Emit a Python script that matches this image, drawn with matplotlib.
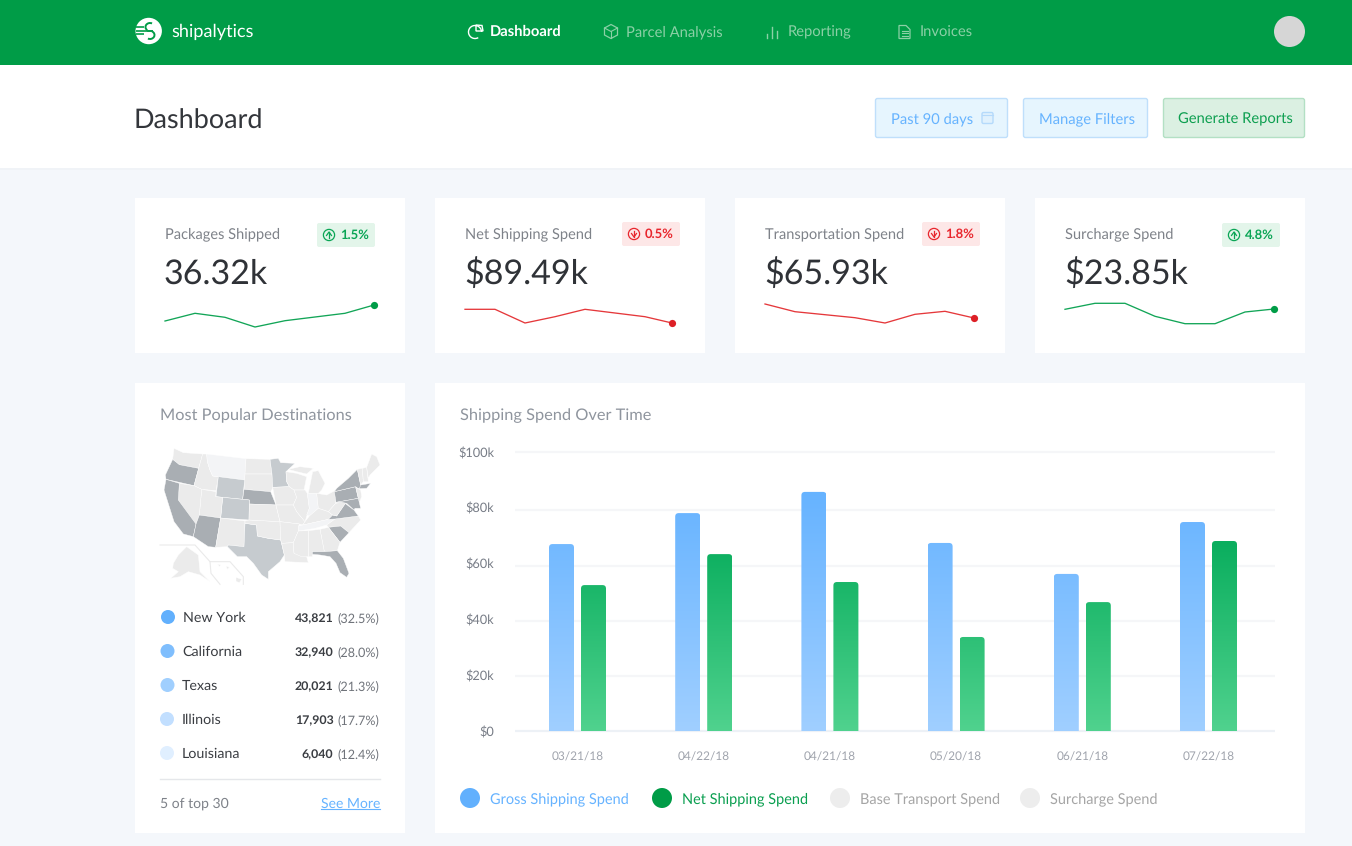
import numpy as np
import matplotlib
matplotlib.use("Agg")
import matplotlib.pyplot as plt
from matplotlib.colors import LinearSegmentedColormap
from matplotlib.patches import Rectangle, FancyBboxPatch, Circle, Arc, Polygon

plt.rcParams["font.family"] = ["Lato", "DejaVu Sans"]
plt.rcParams["text.hinting"] = "no_hinting"
plt.rcParams["text.hinting_factor"] = 8

# ---- data ----
DATES = ["03/21/18", "04/22/18", "04/21/18", "05/20/18", "06/21/18", "07/22/18"]
GROSS = [67.0, 78.1, 85.7, 67.4, 56.3, 74.9]
NET = [52.3, 63.4, 53.4, 33.7, 46.2, 68.1]
Y_TICKS = [0, 20, 40, 60, 80, 100]
Y_LABELS = ["$0", "$20k", "$40k", "$60k", "$80k", "$100k"]
GRID_LINES = [19.7, 39.4, 59.1, 79.2, 100]

CARD_TITLES = ["Packages Shipped", "Net Shipping Spend", "Transportation Spend", "Surcharge Spend"]
CARD_VALUES = ["36.32k", "$89.49k", "$65.93k", "$23.85k"]
CARD_DELTAS = ["1.5%", "0.5%", "1.8%", "4.8%"]
CARD_UP = [True, False, False, True]
SPARK_1 = [14, 21.7, 17.7, 8, 14.3, 18, 21.7, 30]
SPARK_2 = [25.7, 25.7, 12, 18.3, 25.7, 22, 18.3, 12]
SPARK_3 = [31, 23.3, 20.3, 17.3, 12, 20.7, 23.7, 17]
SPARK_4 = [25.7, 31.7, 31.7, 18.7, 11.3, 11.3, 23, 26]

DEST_NAMES = ["New York", "California", "Texas", "Illinois", "Louisiana"]
DEST_COUNTS = ["43,821", "32,940", "20,021", "17,903", "6,040"]
DEST_SHARES = ["(32.5%)", "(28.0%)", "(21.3%)", "(17.7%)", "(12.4%)"]
DEST_COLORS = ["#62B0FD", "#7FBEFD", "#A0CFFE", "#C2DFFF", "#E0EFFF"]

LEGEND_NAMES = ["Gross Shipping Spend", "Net Shipping Spend", "Base Transport Spend", "Surcharge Spend"]

# rough state outlines
LIGHT, MID, DARK, PALE = "#EBEBEB", "#C6CBCF", "#A9AEB3", "#F3F4F6"
STATES = [
    (LIGHT, [(72,25),(100,38),(158,42),(146,85),(88,74),(68,58)]),  # WA
    (DARK, [(68,58),(88,74),(146,85),(132,137),(48,118),(46,105)]),  # OR
    (LIGHT, [(158,42),(170,42),(172,65),(180,90),(188,108),(205,110),(198,152),(155,148),(132,137),(146,85)]),  # ID
    (PALE, [(170,42),(288,56),(284,120),(205,110),(188,108),(180,90),(172,65)]),  # MT
    (LIGHT, [(288,56),(360,58),(366,102),(285,102)]),  # ND
    (LIGHT, [(285,102),(366,102),(368,145),(362,155),(282,148)]),  # SD
    (MID, [(205,110),(284,120),(278,178),(198,170)]),  # WY
    (DARK, [(282,148),(362,155),(378,195),(298,192),(298,180),(278,178)]),  # NE
    (MID, [(218,172),(298,180),(297,240),(212,234)]),  # CO
    (LIGHT, [(155,148),(198,155),(197,170),(218,172),(212,234),(148,225)]),  # UT
    (LIGHT, [(88,130),(132,137),(155,148),(148,225),(138,252),(128,252),(85,180)]),  # NV
    (DARK, [(48,118),(88,130),(85,180),(138,252),(130,290),(100,282),(72,245),(42,150)]),  # CA
    (DARK, [(148,225),(212,234),(197,322),(175,320),(130,290),(138,252)]),  # AZ
    (LIGHT, [(212,234),(285,243),(282,320),(235,315),(232,320),(197,322)]),  # NM
    (MID, [(285,250),(320,255),(322,288),(355,295),(392,300),(403,345),(390,365),(355,395),(355,418),(335,405),(310,370),(290,350),(262,350),(232,320),(235,315),(282,320)]),  # TX
    (LIGHT, [(285,243),(297,240),(390,245),(392,300),(355,295),(322,288),(320,255),(285,250)]),  # OK
    (LIGHT, [(298,192),(378,195),(390,245),(297,240)]),  # KS
    (MID, [(360,58),(385,55),(392,68),(435,70),(408,95),(410,125),(418,140),(368,142),(366,102)]),  # MN
    (LIGHT, [(368,142),(418,140),(432,150),(440,172),(430,195),(378,195)]),  # IA
    (LIGHT, [(378,195),(430,195),(440,215),(465,245),(458,255),(448,252),(390,245)]),  # MO
    (LIGHT, [(390,245),(448,252),(445,273),(430,308),(395,310),(392,300)]),  # AR
    (LIGHT, [(395,310),(430,308),(432,340),(468,343),(475,368),(405,365),(403,345)]),  # LA
    (LIGHT, [(408,95),(440,100),(470,110),(462,150),(432,150),(418,140),(410,125)]),  # WI
    (LIGHT, [(432,150),(465,150),(472,160),(478,205),(465,245),(440,215),(430,195),(440,172)]),  # IL
    (PALE, [(472,160),(500,160),(505,205),(478,228),(470,225),(478,205)]),  # IN
    (LIGHT, [(488,95),(505,92),(525,130),(515,150),(505,160),(475,160),(482,125)]),  # MI
    (LIGHT, [(415,88),(450,80),(490,85),(470,102),(440,95)]),  # MI upper
    (LIGHT, [(500,160),(530,165),(555,152),(557,190),(535,215),(505,205)]),  # OH
    (LIGHT, [(458,255),(465,245),(478,228),(505,205),(535,215),(548,225),(535,238),(445,258)]),  # KY
    (PALE, [(445,258),(535,238),(555,237),(530,255),(495,265),(445,273)]),  # TN
    (LIGHT, [(530,255),(555,237),(625,228),(632,240),(597,278),(572,258),(535,262)]),  # NC
    (DARK, [(535,238),(548,225),(560,228),(585,190),(612,210),(625,228),(555,237)]),  # VA
    (LIGHT, [(535,215),(557,190),(575,187),(590,183),(585,192),(560,228),(548,225)]),  # WV
    (DARK, [(553,155),(617,140),(625,175),(558,187)]),  # PA
    (DARK, [(560,145),(595,115),(622,88),(632,135),(650,135),(625,146),(617,140),(553,155)]),  # NY
    (LIGHT, [(617,142),(632,150),(635,170),(628,188),(625,175)]),  # NJ
    (DARK, [(558,187),(625,175),(632,205),(615,205),(612,210),(590,190),(575,187)]),  # MD
    (LIGHT, [(622,88),(637,85),(640,125),(632,135)]),  # VT
    (LIGHT, [(637,85),(650,82),(655,125),(640,125)]),  # NH
    (LIGHT, [(650,82),(665,42),(680,50),(690,75),(660,105),(655,115)]),  # ME
    (DARK, [(632,135),(662,130),(650,145),(628,146)]),  # MA
    (DARK, [(535,262),(572,258),(597,278),(570,307)]),  # SC
    (LIGHT, [(510,268),(535,262),(570,307),(562,332),(523,335)]),  # GA
    (LIGHT, [(475,272),(510,268),(523,335),(487,335),(487,350),(475,350)]),  # AL
    (LIGHT, [(445,273),(475,272),(475,350),(455,350),(432,340),(430,308)]),  # MS
    (DARK, [(487,335),(523,335),(562,332),(580,355),(597,400),(590,412),(570,398),(558,370),(540,350),(510,345),(487,343)]),  # FL
    (LIGHT, [(70,370),(85,345),(110,320),(145,345),(150,395),(180,425),(150,405),(115,395),(90,410),(62,415),(85,395),(68,385)]),  # AK
    (LIGHT, [(203,372),(212,375),(208,380)]),  # HI
    (LIGHT, [(228,378),(238,382),(232,388)]),  # HI
    (LIGHT, [(258,412),(275,418),(268,428),(258,424)]),  # HI
]
MAP_LINES = [
    [(30,315),(135,315),(180,365),(240,365),(280,410),(280,433)],
    [(180,365),(183,400),(210,433)],
]

BG = "#F4F7FB"
GREEN = "#009C47"
NAV_DIM = "#8BD0A6"
TEXT_DARK = "#2F3237"
TEXT_GREY = "#7E8289"
TITLE_GREY = "#8F959E"
BLUE = "#66B3FF"

fig = plt.figure(figsize=(13.52, 8.46), dpi=100, facecolor=BG)
ax = fig.add_axes([0, 0, 1, 1])
ax.set_xlim(0, 1352)
ax.set_ylim(846, 0)
ax.axis("off")


def px_axes(x0, y0, x1, y1):
    # axes placed by picture pixels, y measured from the top
    a = fig.add_axes([x0 / 1352, 1 - y1 / 846, (x1 - x0) / 1352, (y1 - y0) / 846])
    a.patch.set_alpha(0)
    return a


def put(x, y, s, px, color, ha="left", weight="normal"):
    ax.text(x, y, s, fontsize=px * 0.72, color=color, ha=ha, va="baseline", fontweight=weight)


def box(x0, y0, x1, y1, color, edge="none", r=0):
    if r:
        ax.add_patch(FancyBboxPatch((x0, y0), x1 - x0, y1 - y0, boxstyle=f"round,pad=0,rounding_size={r}",
                                    fc=color, ec=edge, lw=1))
    else:
        ax.add_patch(Rectangle((x0, y0), x1 - x0, y1 - y0, fc=color, ec=edge, lw=0))


# ---- header ----
box(0, 0, 1352, 65, GREEN)
box(0, 65, 1352, 168, "white")
box(0, 168, 1352, 170, "#F0F3F7")

ax.add_patch(Circle((148.7, 31), 13.2, fc="white", ec="none"))
for yy, x_end in [(27.3, 144), (30.7, 147), (34, 144)]:
    ax.plot([135.5, x_end], [yy, yy], color=GREEN, lw=1.2, solid_capstyle="butt")
ax.add_patch(Arc((150, 27), 9, 8, theta1=130, theta2=300, ec=GREEN, lw=1.4))
ax.add_patch(Arc((150, 35), 9, 8, theta1=-60, theta2=120, ec=GREEN, lw=1.4))
ax.plot([148, 152], [31, 31], color=GREEN, lw=1.4)
put(171.5, 37, "shipalytics", 18.2, "white")

put(490, 36, "Dashboard", 14.7, "white", weight="bold")
put(626, 36, "Parcel Analysis", 14.7, NAV_DIM)
put(788, 36, "Reporting", 14.7, NAV_DIM)
put(920, 37, "Invoices", 14.7, NAV_DIM)

# nav icons
ax.add_patch(Arc((475, 32), 13, 13, theta1=-300, theta2=0, ec="white", lw=1))
ax.add_patch(Polygon([(476, 25), (482, 25.5), (483, 31), (476, 31)], fc="none", ec="white", lw=1))
ax.add_patch(Polygon([(611, 24.5), (617.5, 28), (617.5, 35), (611, 38.5), (604.5, 35), (604.5, 28)], fc="none", ec=NAV_DIM, lw=0.9))
ax.plot([604.5, 611, 617.5], [28, 31.5, 28], color=NAV_DIM, lw=0.8)
ax.plot([611, 611], [31.5, 38.5], color=NAV_DIM, lw=0.8)
for xx, top in [(767, 34), (772, 27), (777, 31)]:
    ax.plot([xx, xx], [top, 38], color=NAV_DIM, lw=1)
ax.add_patch(Polygon([(899, 25.5), (906, 25.5), (910, 29.5), (910, 38.5), (899, 38.5)], fc="none", ec=NAV_DIM, lw=0.9))
for yy in [31, 33.5, 36]:
    ax.plot([901.5, 907.5], [yy, yy], color=NAV_DIM, lw=0.8)
ax.add_patch(Circle((1289.5, 31.5), 15.5, fc="#D6D6D6", ec="none"))

put(134, 128.5, "Dashboard", 27, "#33363B")

# buttons
box(875.5, 98.5, 1007.5, 137.5, "#E6F5FE", "#BFDFFB", 2)
box(1023.5, 98.5, 1147.5, 137.5, "#E6F5FE", "#BFDFFB", 2)
box(1163.5, 98.5, 1304.5, 137.5, "#DBF0E2", "#B3E0C4", 2)
put(891, 123, "Past 90 days", 14.7, BLUE)
put(1039, 123, "Manage Filters", 14.7, BLUE)
put(1178, 123, "Generate Reports", 14.7, "#0D9F50")
box(982, 112.5, 993, 123.5, "#E0F1FD", "#B5DAFB", 1.5)
ax.plot([982, 993], [115.5, 115.5], color="#B5DAFB", lw=0.8)

# ---- KPI cards ----
CARD_LEFT = [135, 435, 735, 1035]
SPARKS = [SPARK_1, SPARK_2, SPARK_3, SPARK_4]
SPARK_X = [[0, 1, 2, 3, 4, 5, 6, 6.97], [0, 1, 2, 3, 4, 5, 6, 6.9],
           [0, 1, 2, 3, 4, 5, 6, 6.97], [0, 1, 2, 3, 4, 5, 6, 6.97]]
for i, left in enumerate(CARD_LEFT):
    box(left, 198, left + 270, 353, "white")
    put(left + 30, 238, CARD_TITLES[i], 14.6, TEXT_GREY)
    put(left + 29, 283.5, CARD_VALUES[i], 34, TEXT_DARK)

    up = CARD_UP[i]
    main = "#0AA555" if up else "#E8262D"
    bx0 = left + (182 if i == 0 else 187)
    by0 = 223 if up else 222
    box(bx0, by0, bx0 + 58, by0 + 24, "#E3F5EA" if up else "#FDE7E7", r=2)
    ax.add_patch(Circle((bx0 + 12, by0 + 12), 5.6, fc="none", ec=main, lw=0.9))
    sgn = -1 if up else 1
    ax.plot([bx0 + 12, bx0 + 12], [by0 + 12 - 3, by0 + 12 + 3], color=main, lw=0.9)
    ax.plot([bx0 + 9.5, bx0 + 12, bx0 + 14.5], [by0 + 12 - sgn * 0.5, by0 + 12 + sgn * 3, by0 + 12 - sgn * 0.5], color=main, lw=0.9)
    put(bx0 + 23, by0 + 16, CARD_DELTAS[i], 13, main, weight="bold")

    # sparkline, axes covers y 295..335 and x from the card padding
    sp = px_axes(left + 30 - 5, 295, left + 30 + 215, 335)
    sp.set_xlim(-5 / 30, 215 / 30)
    sp.set_ylim(0, 40)
    sp.axis("off")
    color = "#12A557" if up else "#E5383B"
    dot = "#009C47" if up else "#DD1F26"
    sp.plot(SPARK_X[i], SPARKS[i], color=color, lw=0.95)
    sp.plot(SPARK_X[i][-1], SPARKS[i][-1], "o", color=dot, ms=5.2, mew=0)

# ---- destinations panel ----
box(135, 383, 405, 833, "white")
put(160, 420, "Most Popular Destinations", 16.4, TITLE_GREY)

mp = px_axes(150, 440, 390, 590)
mp.set_xlim(0, 720)
mp.set_ylim(450, 0)
mp.axis("off")
for line in MAP_LINES:
    mp.plot(*zip(*line), color="#EAEAEA", lw=0.8)
for color, outline in STATES:
    mp.add_patch(Polygon(outline, closed=True, fc=color, ec="white", lw=0.3))

DEST_Y = [622, 656, 690, 724, 758]
DEST_DOT_X = [168, 167.5, 167.5, 167, 167]
DEST_NAME_X = [183, 182, 182, 182, 182]
for i, name in enumerate(DEST_NAMES):
    ax.add_patch(Circle((DEST_DOT_X[i], DEST_Y[i] - 5), 7, fc=DEST_COLORS[i], ec="none"))
    put(DEST_NAME_X[i], DEST_Y[i], name, 14.2, "#3A3D42")
    put(333.5, DEST_Y[i], DEST_COUNTS[i], 12.4, "#3A3D42", ha="right", weight="bold")
    put(379.5, DEST_Y[i], DEST_SHARES[i], 12.6, "#6F737A", ha="right")
ax.plot([160, 380], [779.5, 779.5], color="#E5E7EA", lw=1)
put(160, 808, "5 of top 30", 14, TEXT_GREY)
put(380, 808, "See More", 14, BLUE, ha="right")
ax.plot([321, 380], [809.5, 809.5], color=BLUE, lw=0.8)

# ---- spend panel ----
box(435, 383, 1305, 833, "white")
put(460, 420, "Shipping Spend Over Time", 16.4, TITLE_GREY)

# one group step is 126.2 px, one $k is 2.79 px; $0 sits at y=731, first group at x=577.5
STEP = 126.2
KPX = 2.79
ch = px_axes(515, 445, 1275, 736)
ch.set_xlim((515 - 577.5) / STEP, (1275 - 577.5) / STEP)
ch.set_ylim(-5 / KPX, (731 - 445) / KPX)
for side in ch.spines.values():
    side.set_visible(False)
ch.set_yticks(Y_TICKS, Y_LABELS, fontsize=9.2, color="#777C86")
ch.set_xticks(np.arange(len(DATES)), DATES, fontsize=8.6, color="#A0A4AD")
ch.tick_params(length=0)
ch.tick_params(axis="y", pad=15)
ch.tick_params(axis="x", pad=11)
ch.hlines(GRID_LINES, *ch.get_xlim(), color="#F5F6F8", lw=1.6, zorder=1)
ch.axhline(0, color="#EDF1F6", lw=1.6, zorder=1)

width = 25 / STEP
offset = 16 / STEP
radius = 3.5 / STEP
x = np.arange(len(DATES))
blue_cm = LinearSegmentedColormap.from_list("blue", ["#A0CFFF", "#66B3FF"])
green_cm = LinearSegmentedColormap.from_list("green", ["#50D28E", "#0AAE5E"])
ramp = np.linspace(1, 0, 256).reshape(-1, 1)

for series, pos, cm in [(GROSS, x - offset, blue_cm), (NET, x + offset, green_cm)]:
    bars = ch.bar(pos, series, width=width, color="none", zorder=2)
    top = max(series)
    for bar in bars:
        x0, w, h = bar.get_x(), bar.get_width(), bar.get_height()
        # rounded clip reaches below zero so only the top corners look round
        shape = FancyBboxPatch((x0, -10), w, h + 10, boxstyle=f"round,pad=0,rounding_size={radius}",
                               mutation_aspect=STEP / KPX, fc="none", ec="none", transform=ch.transData)
        ch.add_patch(shape)
        im = ch.imshow(ramp, cmap=cm, extent=(x0, x0 + w, 0, top), aspect="auto", zorder=3, vmin=0, vmax=1)
        im.set_clip_path(shape)
ch.set_xlim((515 - 577.5) / STEP, (1275 - 577.5) / STEP)
ch.set_ylim(-5 / KPX, (731 - 445) / KPX)

LEG_DOT_X = [470, 662, 840, 1030]
LEG_TEXT_X = [490, 682, 860, 1050]
LEG_DOT_COLOR = ["#62B0FD", GREEN, "#EDEDED", "#EDEDED"]
LEG_TEXT_COLOR = [BLUE, "#0A9F50", "#A5A5A5", "#A5A5A5"]
for i, name in enumerate(LEGEND_NAMES):
    ax.add_patch(Circle((LEG_DOT_X[i], 798), 10, fc=LEG_DOT_COLOR[i], ec="none"))
    put(LEG_TEXT_X[i], 803, name, 14.5, LEG_TEXT_COLOR[i])

fig.savefig("out.png", dpi=100, facecolor=BG)
